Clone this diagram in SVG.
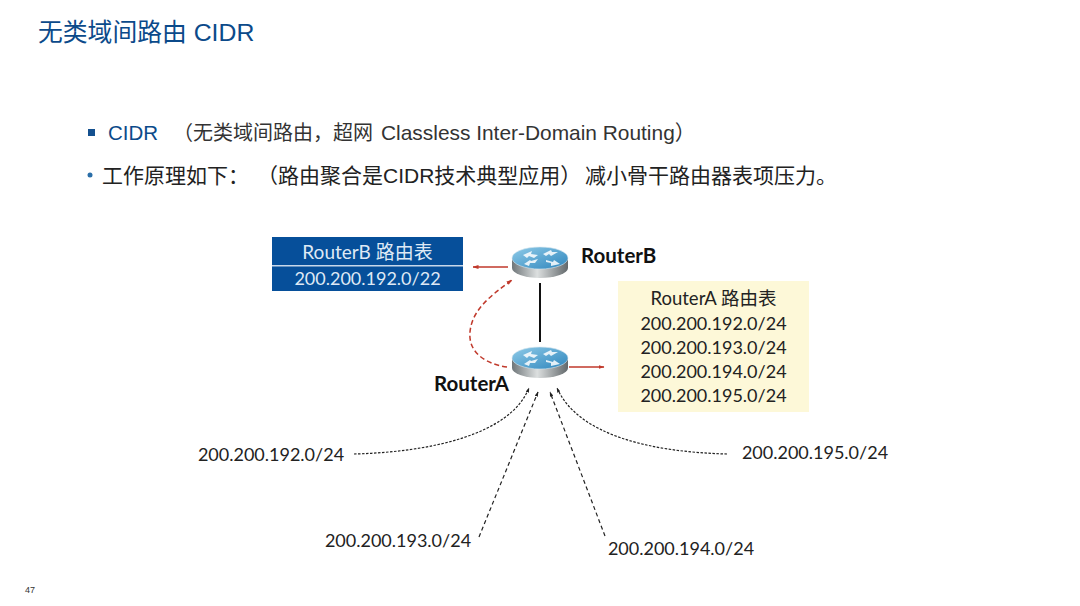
<svg xmlns="http://www.w3.org/2000/svg" width="1080" height="606" viewBox="0 0 1080 606">
<style>
.cn{font-family:"Liberation Sans","Noto Sans CJK SC",sans-serif}
.la{font-family:Lato,"Noto Sans CJK SC",sans-serif;font-size:18px;fill:#222;text-anchor:middle}
.lb{font-family:Lato,sans-serif;font-size:20.5px;font-weight:700;fill:#111}
.red{stroke:#c0392b;stroke-width:1.5;fill:none}
.dash{stroke:#222;stroke-width:1.2;fill:none}
.w{fill:#fff;opacity:.85}
</style>
<defs>
<marker id="ra" markerUnits="userSpaceOnUse" markerWidth="6" markerHeight="5" refX="5.500" refY="2.500" orient="auto"><path d="M0 0.5L6 2.500L0 4.500Z" fill="#c0392b"/></marker>
<marker id="ka" markerUnits="userSpaceOnUse" markerWidth="5" markerHeight="4" refX="4.500" refY="2" orient="auto"><path d="M0 0.3L5 2L0 3.700Z" fill="#222"/></marker>
<linearGradient id="side" x1="0" x2="1" y1="0" y2="0"><stop offset="0" stop-color="#6f7679"/><stop offset=".45" stop-color="#dcdfdf"/><stop offset="1" stop-color="#62686b"/></linearGradient>
<linearGradient id="top" x1="0" x2="1" y1="0" y2="1"><stop offset="0" stop-color="#8fcbe8"/><stop offset="1" stop-color="#2f86bd"/></linearGradient>
<g id="router">
<path d="M-28 0V10A28 10 0 0 0 28 10V0Z" fill="url(#side)"/>
<ellipse cx="0" cy="0" rx="28" ry="11" fill="url(#top)" stroke="#d7e6ee" stroke-width=".6"/>
<path class="w" d="M-17 -3L-8 -7L-9 -4L-2 -3L-6 0L-11 -2L-13 0Z M3 -4L11 -8L12 -6L18 -6L11 -2L9 -4L6 -2Z M-16 6L-10 2L-9 3L-2 1L-5 5L-10 5L-11 8Z M6 2L13 4L14 2L20 6L11 8L11 5L6 4Z"/>
</g>
</defs>
<rect width="1080" height="606" fill="#fff"/>
<text class="cn" x="38" y="41" font-size="24.800" fill="#0b4a8a">无类域间路由 CIDR</text>
<rect x="88" y="129" width="7" height="7" fill="#14508f"/>
<text class="cn" x="108" y="140" font-size="20.500" fill="#0b4a8a">CIDR</text>
<text class="cn" x="173" y="140" font-size="20" fill="#333">（无类域间路由，超网</text>
<text class="cn" x="381" y="140" font-size="20.900" fill="#333">Classless Inter-Domain Routing）</text>
<circle cx="90" cy="175" r="2.500" fill="#2a6ea8"/>
<text class="cn" x="102" y="183" font-size="21" fill="#222">工作原理如下：</text>
<text class="cn" x="257" y="183" font-size="21" fill="#222">（路由聚合是CIDR技术典型应用）</text>
<text class="cn" x="585" y="183" font-size="21" fill="#222">减小骨干路由器表项压力。</text>

<g id="connectors">
<line x1="540" y1="283" x2="540" y2="342" stroke="#111" stroke-width="2"/>
<line x1="508" y1="267" x2="473" y2="267" class="red" marker-end="url(#ra)"/>
<line x1="569" y1="367" x2="604" y2="367" class="red" marker-end="url(#ra)"/>
<path d="M507 367C485 364 468 352 470 332C472 310 490 296 512 280" class="red" stroke-dasharray="5 3" marker-end="url(#ra)"/>
<path d="M354 454C430 452 510 435 529 388" class="dash" stroke-dasharray="2.500 1.500" marker-end="url(#ka)"/>
<path d="M479 537L538 392" class="dash" stroke-dasharray="4 3" marker-end="url(#ka)"/>
<path d="M605 536L550 392" class="dash" stroke-dasharray="4 3" marker-end="url(#ka)"/>
<path d="M727 454C650 452 578 435 557 388" class="dash" stroke-dasharray="2.500 1.500" marker-end="url(#ka)"/>
</g>

<g id="routerB"><use href="#router" x="540" y="258"/><text class="lb" x="581" y="263">RouterB</text></g>
<g id="routerA"><use href="#router" x="540" y="358"/><text class="lb" x="434" y="391">RouterA</text></g>

<g id="tableB">
<rect x="272" y="237" width="191" height="54" fill="#064f9a"/>
<rect x="272" y="265" width="191" height="1.500" fill="#c8d8ea"/>
<text class="la" x="367.500" y="259" style="fill:#dfe9f5;font-size:19px">RouterB 路由表</text>
<text class="la" x="367.500" y="285" style="fill:#dfe9f5">200.200.192.0/22</text>
</g>
<g id="tableA">
<rect x="618" y="281" width="191" height="131" fill="#fdf8d8"/>
<text class="la" x="713.500" y="305" style="font-size:18.500px">RouterA 路由表</text>
<text class="la" x="713.500" y="330">200.200.192.0/24</text>
<text class="la" x="713.500" y="354">200.200.193.0/24</text>
<text class="la" x="713.500" y="378">200.200.194.0/24</text>
<text class="la" x="713.500" y="402">200.200.195.0/24</text>
</g>
<g id="net192"><text class="la" x="271" y="461">200.200.192.0/24</text></g>
<g id="net193"><text class="la" x="398" y="547">200.200.193.0/24</text></g>
<g id="net194"><text class="la" x="681" y="555">200.200.194.0/24</text></g>
<g id="net195"><text class="la" x="815" y="459">200.200.195.0/24</text></g>
<text class="cn" x="25" y="593" font-size="9" fill="#333">47</text>
</svg>
